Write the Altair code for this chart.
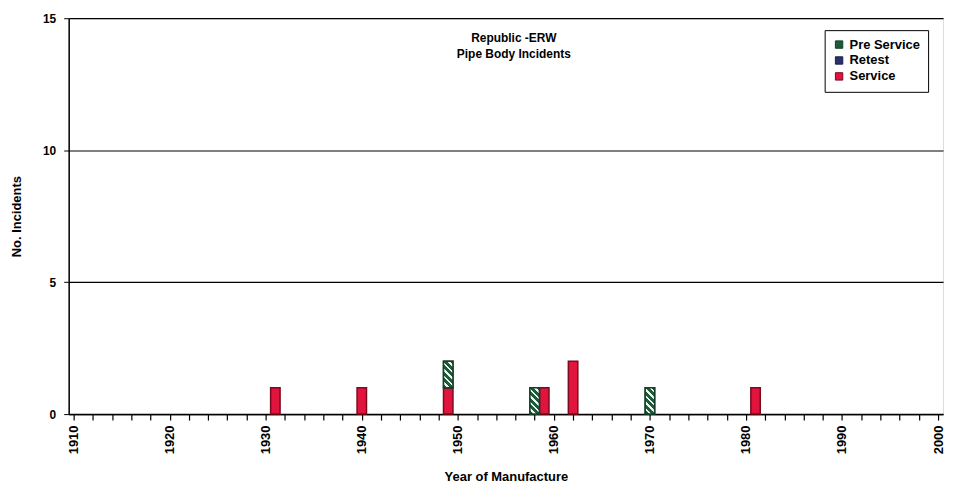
import altair as alt
import pandas as pd

# ---- data ----
categories = ["Pre Service", "Retest", "Service"]
service_years = [1931, 1940, 1949, 1959, 1962, 1981]
service_counts = [1, 1, 1, 1, 2, 1]
pre_service_years = [1949, 1958, 1970]
pre_service_counts = [1, 1, 1]
retest_years = []
retest_counts = []
x_tick_values = list(range(1910, 2001, 2))
y_tick_values = [0, 5, 10, 15]

rows = []
for y, c in zip(service_years, service_counts):
    rows.append({"year": y, "category": "Service", "count": c, "order": 0})
for y, c in zip(retest_years, retest_counts):
    rows.append({"year": y, "category": "Retest", "count": c, "order": 1})
for y, c in zip(pre_service_years, pre_service_counts):
    rows.append({"year": y, "category": "Pre Service", "count": c, "order": 2})
df = pd.DataFrame(rows)

GREEN = "#1d5c3a"
RED = "#e0143c"
RETEST = "#2d2f6e"
FONT = "Liberation Sans"

# diagonal hatch as a striped linear gradient
periods = 5.5
stops = []
i = 0
while i / periods < 1:
    a = i / periods
    b = min((i + 0.62) / periods, 1)
    c = min((i + 1) / periods, 1)
    stops += [{"offset": a, "color": GREEN}, {"offset": b, "color": GREEN},
              {"offset": b, "color": "#eef4ef"}, {"offset": c, "color": "#eef4ef"}]
    i += 1
hatch = alt.LinearGradient(gradient="linear", stops=stops,
                           x1=0, y1=1, x2=0.4316, y2=-0.2038)

W, H = 879, 398

base = alt.Chart(df).transform_stack(
    stack="count", as_=["y0", "y1"], groupby=["year"],
    sort=[alt.SortField("order", order="ascending")]
)

x_enc = alt.X("year:Q",
              scale=alt.Scale(domain=[1910, 2000], nice=False, zero=False),
              axis=alt.Axis(values=x_tick_values, tickCount=60, format="d",
                            labelExpr="datum.value % 10 == 0 ? datum.label : ''",
                            labelOverlap=False, labelFlush=False,
                            labelAngle=270, labelAlign="right", labelBaseline="middle",
                            tickSize=6, tickColor="black", tickWidth=1.2,
                            domainColor="black", domainWidth=1.5,
                            labelFontSize=13, labelFontWeight="bold", labelColor="black",
                            labelPadding=5, grid=False,
                            title="Year of Manufacture", titleFontSize=13,
                            titleFontWeight="bold", titleColor="black",
                            titlePadding=17))
y_enc = alt.Y("y0:Q",
              scale=alt.Scale(domain=[0, 15], nice=False),
              axis=alt.Axis(values=y_tick_values, grid=True, gridColor="black",
                            gridWidth=1.2, gridOpacity=1,
                            tickSize=5, tickColor="black",
                            domainColor="black", domainWidth=1.5,
                            labelFontSize=12, labelFontWeight="bold", labelColor="black",
                            labelPadding=8,
                            title="No. Incidents", titleFontSize=13,
                            titleFontWeight="bold", titleColor="black",
                            titlePadding=19))

bars = base.mark_bar(width=9.5, strokeWidth=1.5).encode(
    x=x_enc, y=y_enc, y2="y1:Q",
    color=alt.Color("category:N",
                    scale=alt.Scale(domain=categories, range=[GREEN, RETEST, RED]),
                    legend=alt.Legend(title=None, orient="none", legendX=760, legendY=12,
                                      symbolType="square", symbolSize=55,
                                      symbolStrokeColor="black", symbolStrokeWidth=1,
                                      labelFontSize=13, labelFontWeight="bold",
                                      labelColor="black", labelFont=FONT,
                                      rowPadding=2, padding=8, labelOffset=4,
                                      strokeColor="black", fillColor="white")),
    stroke=alt.Stroke("category:N",
                      scale=alt.Scale(domain=categories,
                                      range=["#143f28", "#1c1d4a", "#7a0a1e"]),
                      legend=None),
)

hatched = base.transform_filter(alt.datum.category == "Pre Service").mark_bar(
    width=9.5, fill=hatch, stroke="#143f28", strokeWidth=1.5
).encode(x="year:Q", y="y0:Q", y2="y1:Q")

chart = alt.layer(bars, hatched).properties(
    width=W, height=H,
    autosize=alt.AutoSizeParams(type="none"),
    padding={"left": 61, "top": 9, "right": 5, "bottom": 68},
    title=alt.TitleParams(["Republic -ERW", "Pipe Body Incidents"], anchor="middle",
                          orient="top", offset=-49, dx=8, fontSize=12,
                          fontWeight="bold", color="black", font=FONT, lineHeight=16),
).configure_view(stroke=None).configure(font=FONT, background="white")

chart.save("out.html", embed_options={"renderer": "svg", "actions": False})
